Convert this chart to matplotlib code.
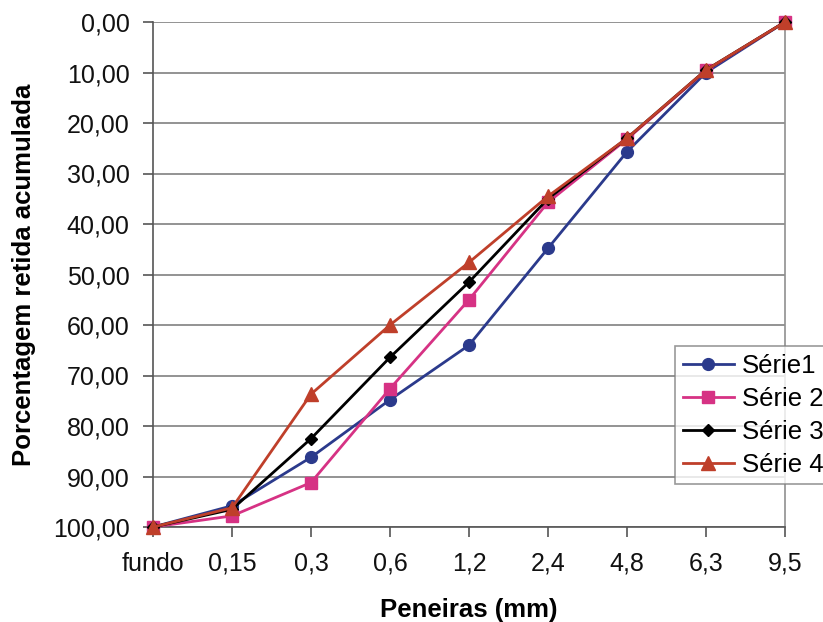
import matplotlib
matplotlib.use("Agg")
import matplotlib.pyplot as plt
from matplotlib.ticker import FuncFormatter

plt.rcParams['font.family'] = ['Liberation Sans', 'DejaVu Sans']

# Sieve openings (categorical x axis)
peneiras = ["fundo", "0,15", "0,3", "0,6", "1,2", "2,4", "4,8", "6,3", "9,5"]

# Cumulative retained percentage per sieve
serie1 = [100.0, 95.8, 86.2, 74.8, 64.0, 44.8, 25.7, 10.0, 0.0]
serie2 = [100.0, 97.8, 91.2, 72.6, 55.0, 35.7, 23.2, 9.6, 0.0]
serie3 = [100.0, 96.5, 82.5, 66.4, 51.5, 35.0, 23.0, 9.5, 0.0]
serie4 = [100.0, 96.2, 73.7, 60.0, 47.6, 34.5, 23.0, 9.5, 0.0]

series_names = ["Série1", "Série 2", "Série 3", "Série 4"]
series_values = [serie1, serie2, serie3, serie4]
colors = ["#2B3A8C", "#D63284", "#000000", "#BF3F2A"]
markers = ["o", "s", "D", "^"]
msizes = [8.5, 8, 6, 9.5]

fig = plt.figure(figsize=(8.23, 6.22), dpi=100)
ax = fig.add_axes([153 / 823, 1 - 527 / 622, (785 - 153) / 823, (527 - 22) / 622])

x = list(range(len(peneiras)))
for name, vals, c, m, ms in zip(series_names, series_values, colors, markers, msizes):
    ax.plot(x, vals, color=c, marker=m, markersize=ms, linewidth=2,
            markeredgecolor=c, markerfacecolor=c, label=name, clip_on=False, zorder=3)

ax.set_xlim(0, len(peneiras) - 1)
ax.set_ylim(100, 0)
ax.set_yticks(range(0, 101, 10))
ax.yaxis.set_major_formatter(FuncFormatter(lambda v, p: f"{v:.2f}".replace(".", ",")))
ax.set_xticks(x)
ax.set_xticklabels(peneiras)

ax.grid(axis="y", color="#808080", linewidth=1.2)
ax.set_axisbelow(True)
for side in ["left", "bottom"]:
    ax.spines[side].set_color("#555555")
    ax.spines[side].set_linewidth(1.2)
ax.spines["top"].set_visible(False)
ax.spines["right"].set_color("#909090")
ax.spines["right"].set_linewidth(1.2)

ax.tick_params(axis="both", direction="out", length=7, width=1.2, color="#555555",
               labelsize=18, labelcolor="#111111")
ax.tick_params(axis="y", pad=10)
ax.tick_params(axis="x", pad=11)

ax.set_xlabel("Peneiras (mm)", fontsize=18.5, fontweight="bold", labelpad=16)
ax.set_ylabel("Porcentagem retida acumulada", fontsize=18.5, fontweight="bold", labelpad=12)

leg = fig.legend(loc="upper left", bbox_to_anchor=(675 / 823, 1 - 346 / 622),
                 fontsize=18.5, frameon=True, fancybox=False, edgecolor="#808080",
                 handlelength=2.0, handletextpad=0.3, borderpad=0.3, labelspacing=0.35,
                 borderaxespad=0)
leg.get_frame().set_linewidth(1.2)

fig.savefig("out.png", dpi=100)
